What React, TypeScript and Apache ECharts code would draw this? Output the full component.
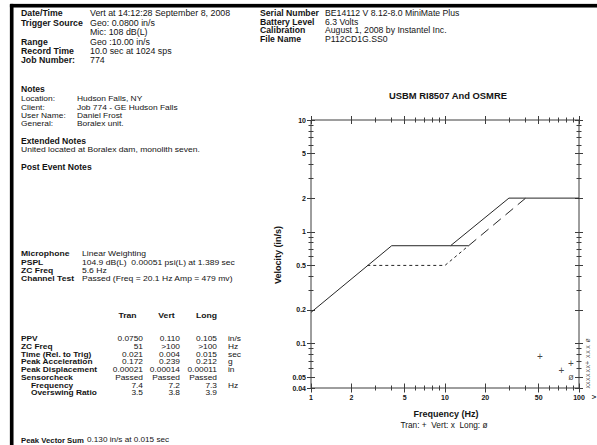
import React, { useEffect, useRef } from 'react';
import * as echarts from 'echarts';

const FONT = '"Liberation Sans", Arial, Helvetica, sans-serif';

// ---------- report text ----------
const headerLeft: [string, string][] = [
  ['Date/Time', 'Vert at 14:12:28 September 8, 2008'],
  ['Trigger Source', 'Geo: 0.0800 in/s'],
  ['', 'Mic: 108 dB(L)'],
  ['Range', 'Geo :10.00 in/s'],
  ['Record Time', '10.0 sec at 1024 sps'],
  ['Job Number:', '774'],
];
const headerRight: [string, string][] = [
  ['Serial Number', 'BE14112 V 8.12-8.0 MiniMate Plus'],
  ['Battery Level', '6.3 Volts'],
  ['Calibration', 'August 1, 2008 by Instantel Inc.'],
  ['File Name', 'P112CD1G.SS0'],
];
const noteRows: [string, string][] = [
  ['Location:', 'Hudson Falls, NY'],
  ['Client:', 'Job 774 - GE Hudson Falls'],
  ['User Name:', 'Daniel Frost'],
  ['General:', 'Boralex unit.'],
];
const extendedNote = 'United located at Boralex dam, monolith seven.';
const micRows: [string, string][] = [
  ['Microphone', 'Linear Weighting'],
  ['PSPL', '104.9 dB(L)  0.00051 psi(L) at 1.389 sec'],
  ['ZC Freq', '5.6 Hz'],
  ['Channel Test', 'Passed (Freq = 20.1 Hz Amp = 479 mv)'],
];
const channels = ['Tran', 'Vert', 'Long'];
const statLabels = ['PPV', 'ZC Freq', 'Time (Rel. to Trig)', 'Peak Acceleration', 'Peak Displacement', 'Sensorcheck', 'Frequency', 'Overswing Ratio'];
const statIndent = [false, false, false, false, false, false, true, true];
const tranStats = ['0.0750', '51', '0.021', '0.172', '0.00021', 'Passed', '7.4', '3.5'];
const vertStats = ['0.110', '>100', '0.004', '0.239', '0.00014', 'Passed', '7.2', '3.8'];
const longStats = ['0.105', '>100', '0.015', '0.212', '0.00011', 'Passed', '7.3', '3.9'];
const statUnits = ['in/s', 'Hz', 'sec', 'g', 'in', '', 'Hz', ''];
const peakVectorSum = '0.130 in/s at 0.015 sec';

// ---------- chart data ----------
const chartTitle = 'USBM RI8507 And OSMRE';
const freqMajor = [1, 2, 5, 10, 20, 50, 100];
const freqMinor = [3, 4, 6, 7, 8, 9, 30, 40, 60, 70, 80, 90];
const velMajor = [0.04, 0.05, 0.1, 0.2, 0.5, 1, 2, 5, 10];
const velMinor = [0.06, 0.07, 0.08, 0.09, 0.3, 0.4, 0.6, 0.7, 0.8, 0.9, 3, 4, 6, 7, 8, 9];

const osmreLine = [[1, 0.19], [4, 0.75], [11, 0.75], [30, 2.0], [100, 2.0]];
const usbmFlat = [[11, 0.75], [15, 0.75]];
const usbmRise = [[15, 0.75], [40, 2.0]];
const usbmPlaster = [[2.63, 0.5], [10, 0.5], [15, 0.75]];

const tranPoints = [[51, 0.076], [74, 0.057], [87, 0.066], [115, 0.067]];
const vertPoints = [[115, 0.093], [115, 0.084], [115, 0.077], [115, 0.062], [115, 0.057], [115, 0.052], [115, 0.048], [115, 0.044], [115, 0.041]];
const longPoints = [[87, 0.0505], [115, 0.107]];

const L = (v: number) => Math.log10(v);

export default function App() {
  const ref = useRef<HTMLDivElement>(null);

  useEffect(() => {
    document.body.style.margin = '0';
    const chart = echarts.init(ref.current!, null, { renderer: 'svg' });

    const INK = '#141414';
    const AX = '#3c3c3c';
    const els: any[] = [];
    // page frame: top and left edges
    els.push({ type: 'rect', left: 10, top: 4, z: 20, shape: { width: 587, height: 3 }, style: { fill: '#000000', stroke: '#000000', lineWidth: 0.5 } });
    els.push({ type: 'rect', left: 10, top: 4, z: 20, shape: { width: 3, height: 441 }, style: { fill: '#000000', stroke: '#000000', lineWidth: 0.5 } });
    els.push({ type: 'polyline', z: 20, shape: { points: [[11.5, 445], [11.5, 5.5], [597, 5.5]] }, style: { fill: null, stroke: '#000000', lineWidth: 3 } });

    const txt = (x: number, y: number, text: string, o: any = {}) => {
      els.push({
        type: 'text', x, y, rotation: o.rot ?? 0, scaleX: o.sx ?? 1, silent: true, z: 5,
        style: {
          text, fontSize: o.size ?? 8.4, fontWeight: o.bold ? 'bold' : 'normal',
          fontFamily: FONT, fill: INK, align: o.align ?? 'left', verticalAlign: 'middle',
        },
      });
    };

    headerLeft.forEach(([l, v], i) => {
      const y = 13.5 + i * 9.4;
      if (l) txt(21, y, l, { bold: true, size: 8.6, sx: 1.02 });
      txt(90, y, v, { size: 8.6, sx: 1.03 });
    });
    headerRight.forEach(([l, v], i) => {
      const y = 13.5 + i * 8.4;
      txt(260, y, l, { bold: true, size: 8.2, sx: 1.06 });
      txt(325, y, v, { size: 8.2, sx: 1.06 });
    });
    txt(21, 89, 'Notes', { bold: true, size: 8.2, sx: 1.05 });
    noteRows.forEach(([l, v], i) => {
      const y = 99 + i * 8.3;
      txt(21, y, l, { size: 8, sx: 1.05 });
      txt(77, y, v, { size: 8, sx: 1.05 });
    });
    txt(21, 141, 'Extended Notes', { bold: true, size: 8.2, sx: 1.05 });
    txt(21, 150, extendedNote, { size: 8, sx: 1.07 });
    txt(21, 167, 'Post Event Notes', { bold: true, size: 8.2, sx: 1.05 });
    micRows.forEach(([l, v], i) => {
      const y = 254 + i * 8.3;
      txt(21, y, l, { bold: true, size: 8, sx: 1.07 });
      txt(82, y, v, { size: 8, sx: 1.07 });
    });
    const colCenters = [127.5, 166.5, 206.5];
    channels.forEach((c, i) => txt(colCenters[i], 315, c, { bold: true, size: 8, sx: 1.08, align: 'center' }));
    const colRights = [143, 180, 217];
    statLabels.forEach((l, i) => {
      const y = 339 + i * 7.7;
      txt(statIndent[i] ? 31 : 21, y, l, { bold: true, size: 7.6, sx: 1.1 });
      txt(colRights[0], y, tranStats[i], { align: 'right', size: 7.6, sx: 1.1 });
      txt(colRights[1], y, vertStats[i], { align: 'right', size: 7.6, sx: 1.1 });
      txt(colRights[2], y, longStats[i], { align: 'right', size: 7.6, sx: 1.1 });
      if (statUnits[i]) txt(228, y, statUnits[i], { size: 7.6, sx: 1.1 });
    });
    txt(21, 440, 'Peak Vector Sum', { bold: true, size: 8, sx: 0.97 });
    txt(87, 440, peakVectorSum, { size: 8, sx: 1.02 });

    // chart annotations
    txt(278, 255, 'Velocity (in/s)', { bold: true, size: 9, align: 'center', rot: Math.PI / 2 });
    txt(446, 414, 'Frequency (Hz)', { bold: true, size: 9, align: 'center' });
    txt(444, 424.5, 'Tran: +  Vert: x  Long: \u00f8', { size: 8.3, align: 'center' });
    txt(593, 397, 'v', { size: 8, align: 'center', rot: Math.PI / 2 });

    const xMin = L(freqMajor[0]);
    const xMax = L(freqMajor[freqMajor.length - 1]);
    const yMin = L(velMajor[0]);
    const yMax = L(velMajor[velMajor.length - 1]);
    const fmt = (majors: number[]) => (v: number) => {
      const m = majors.find((t) => Math.abs(L(t) - v) < 1e-6);
      return m === undefined ? '' : String(m);
    };
    const mkAxis = (dim: 'x' | 'y', position: string, major: boolean, offset: number, len: number, labels: boolean, margin = 8) => {
      const ticks = dim === 'x' ? (major ? freqMajor : freqMinor) : (major ? velMajor : velMinor);
      const majors = dim === 'x' ? freqMajor : velMajor;
      return {
        type: 'value', position, offset,
        min: dim === 'x' ? xMin : yMin,
        max: dim === 'x' ? xMax : yMax,
        axisLine: { show: false, onZero: false },
        splitLine: { show: false },
        axisTick: { show: true, inside: false, length: len, customValues: ticks.map(L), lineStyle: { color: AX, width: 1 } },
        axisLabel: {
          show: labels, customValues: ticks.map(L), formatter: fmt(majors), margin,
          fontSize: 7, fontWeight: 'bold', fontFamily: FONT, color: INK,
        },
      };
    };

    const lineSeries = (data: number[][], type: any) => ({
      type: 'line', data: data.map(([f, v]) => [L(f), L(v)]), symbol: 'none', silent: true,
      lineStyle: { color: '#262626', width: 1, type },
    });
    const glyphSeries = (data: number[][], glyph: string, size: number) => ({
      type: 'scatter', clip: false, silent: true, symbolSize: 1,
      itemStyle: { color: 'rgba(0,0,0,0)' },
      data: data.map(([f, v]) => ({
        value: [L(f), L(v)],
        label: { rotate: f > 100 ? 90 : 0, fontSize: f > 100 ? size - 2 : size },
      })),
      label: { show: true, position: 'inside', formatter: glyph, fontFamily: FONT, color: INK, fontSize: size },
    });

    chart.setOption({
      animation: false,
      backgroundColor: '#ffffff',
      title: {
        text: chartTitle, left: 443, top: 86, textAlign: 'center',
        textStyle: { fontSize: 9.4, fontWeight: 'bold', fontFamily: FONT, color: INK },
      },
      grid: { left: 311, top: 120, width: 268, height: 268, show: true, borderColor: AX, borderWidth: 1, backgroundColor: 'transparent' },
      xAxis: [
        mkAxis('x', 'bottom', true, -4.5, 9, true, 10.5),
        mkAxis('x', 'bottom', false, -2.5, 5, false),
        mkAxis('x', 'top', true, -4, 8, false),
        mkAxis('x', 'top', false, -2.5, 5, false),
      ],
      yAxis: [
        mkAxis('y', 'left', true, -4, 8, true, 9),
        mkAxis('y', 'left', false, -2.5, 5, false),
        mkAxis('y', 'right', true, -4, 8, false),
        mkAxis('y', 'right', false, -2.5, 5, false),
      ],
      series: [
        lineSeries(osmreLine, 'solid'),
        lineSeries(usbmFlat, 'solid'),
        lineSeries(usbmRise, [10, 6]),
        lineSeries(usbmPlaster, [3, 3]),
        glyphSeries(tranPoints, '+', 10),
        glyphSeries(vertPoints, 'x', 9),
        glyphSeries(longPoints, '\u00f8', 9),
      ],
      graphic: { elements: els },
    });
    return () => chart.dispose();
  }, []);

  return <div ref={ref} style={{ width: 597, height: 445, background: '#fff' }} />;
}
